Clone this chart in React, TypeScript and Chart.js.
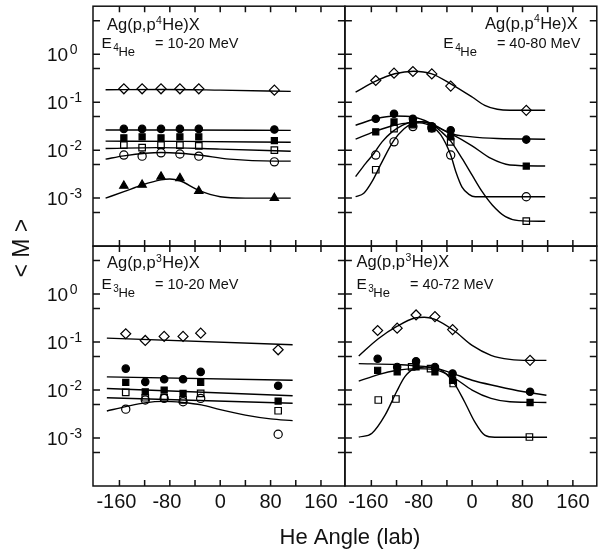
import React, { useEffect, useRef } from 'react';
import { Chart, registerables } from 'chart.js';

Chart.register(...registerables);

const FONT = "'Liberation Sans', Arial, Helvetica, sans-serif";

// ---- axis ticks / labels ----
const X_TICKS = [-160, -120, -80, -40, 0, 40, 80, 120, 160];
const X_LABELS = [-160, -80, 0, 80, 160];
const Y_TICKS = [5e-4, 1e-3, 5e-3, 1e-2, 5e-2, 0.1, 0.5, 1, 5];
const Y_LABEL_VALUES = [1, 0.1, 0.01, 0.001];
const Y_LABEL_EXPONENTS = ['0', '-1', '-2', '-3'];

// ---- measured angles ----
const TOP_ANGLES = [-153, -124, -94, -64, -34, 86];
const BOT_ANGLES = [-150, -119, -89, -59, -31, 92];
const BR_OS_ANGLES = [-149, -121, -96, -66, -30, 91];

// ---- top-left: Ag(p,p4He)X, E = 10-20 MeV ----
const TL_DIA = [0.19, 0.19, 0.19, 0.19, 0.19, 0.178];
const TL_FC = [0.0277, 0.0277, 0.0277, 0.0277, 0.0277, 0.027];
const TL_FS = [0.018, 0.0189, 0.018, 0.0189, 0.0189, 0.0158];
const TL_OS = [0.0127, 0.0113, 0.0127, 0.0127, 0.0123, 0.01];
const TL_OC = [0.0079, 0.0075, 0.0088, 0.0083, 0.0075, 0.0057];
const TL_TRI = [0.0018, 0.0019, 0.0028, 0.0026, 0.0014, 0.001];

const TL_DIA_CX = [-182, -90, 0, 112];
const TL_DIA_CY = [0.182, 0.184, 0.178, 0.168];
const TL_FC_CX = [-182, -60, 112];
const TL_FC_CY = [0.0262, 0.0262, 0.0258];
const TL_FS_CX = [-182, -60, 112];
const TL_FS_CY = [0.0154, 0.0152, 0.0146];
const TL_OS_CX = [-182, -100, 0, 112];
const TL_OS_CY = [0.0108, 0.0113, 0.0105, 0.0095];
const TL_OC_CX = [-182, -153, -94, -64, -34, 15, 86, 112];
const TL_OC_CY = [0.0065, 0.0076, 0.0089, 0.0086, 0.0079, 0.0065, 0.0059, 0.0059];
const TL_TRI_CX = [-182, -153, -124, -94, -80, -64, -34, 0, 40, 112];
const TL_TRI_CY = [0.001, 0.00136, 0.00188, 0.0024, 0.0025, 0.0023, 0.00145, 0.00107, 0.001, 0.001];

// ---- top-right: Ag(p,p4He)X, E = 40-80 MeV ----
const TR_DIA = [0.283, 0.402, 0.435, 0.388, 0.216, 0.0676];
const TR_FC = [0.045, 0.0575, 0.045, 0.0315, 0.026, 0.0166];
const TR_FS = [0.024, 0.0387, 0.035, 0.028, 0.0189, 0.00466];
const TR_OS = [0.0039, 0.028, 0.034, 0.03, 0.0149, 0.00033];
const TR_OC = [0.0079, 0.0149, 0.031, 0.029, 0.0079, 0.00107];

const TR_DIA_CX = [-185, -153, -123, -93, -64, -34, 0, 20, 40, 60, 116];
const TR_DIA_CY = [0.162, 0.274, 0.39, 0.442, 0.39, 0.241, 0.128, 0.086, 0.071, 0.0676, 0.0676];
const TR_FC_CX = [-185, -153, -123, -93, -64, -34, 0, 40, 116];
const TR_FC_CY = [0.033, 0.045, 0.0515, 0.049, 0.0356, 0.0221, 0.0189, 0.0175, 0.0169];
const TR_FS_CX = [-185, -156, -124, -95, -80, -64, -34, 0, 30, 60, 116];
const TR_FS_CY = [0.017, 0.024, 0.033, 0.038, 0.039, 0.034, 0.022, 0.0123, 0.0067, 0.0049, 0.00466];
const TR_OS_CX = [-185, -169, -156, -143, -127, -111, -95, -80, -64, -50, -34, -16, 0, 16, 32, 53, 74, 116];
const TR_OS_CY = [0.0028, 0.0053, 0.0085, 0.0149, 0.024, 0.033, 0.0387, 0.039, 0.035, 0.025, 0.0154, 0.0067, 0.003, 0.00136, 0.00072, 0.00041, 0.00034, 0.00033];
const TR_OC_CX = [-185, -172, -159, -143, -124, -108, -95, -84, -64, -50, -34, -26, -16, -5, 5, 116];
const TR_OC_CY = [0.00107, 0.00126, 0.0022, 0.0057, 0.0161, 0.028, 0.0356, 0.037, 0.031, 0.021, 0.0079, 0.0036, 0.0017, 0.0012, 0.00107, 0.00107];

// ---- bottom-left: Ag(p,p3He)X, E = 10-20 MeV ----
const BL_DIA = [0.149, 0.108, 0.131, 0.131, 0.153, 0.069];
const BL_FC = [0.028, 0.0148, 0.0168, 0.0168, 0.0239, 0.0123];
const BL_FS = [0.0144, 0.0092, 0.01, 0.0085, 0.0144, 0.0059];
const BL_OS = [0.0089, 0.0069, 0.0069, 0.0062, 0.0085, 0.0037];
const BL_OC = [0.004, 0.0062, 0.0067, 0.0057, 0.0067, 0.0012];

const BL_DIA_CX = [-180, 115];
const BL_DIA_CY = [0.121, 0.088];
const BL_FC_CX = [-180, 115];
const BL_FC_CY = [0.0188, 0.016];
const BL_FS_CX = [-180, 115];
const BL_FS_CY = [0.0108, 0.0076];
const BL_OS_CX = [-180, 115];
const BL_OS_CY = [0.0069, 0.0053];
const BL_OC_CX = [-180, -150, -120, -90, -60, -30, 0, 40, 80, 115];
const BL_OC_CY = [0.00366, 0.0045, 0.0054, 0.0058, 0.0055, 0.0049, 0.0039, 0.003, 0.0025, 0.0023];

// ---- bottom-right: Ag(p,p3He)X, E = 40-72 MeV ----
const BR_DIA = [0.174, 0.195, 0.367, 0.339, 0.182, 0.0416];
const BR_FC = [0.045, 0.0303, 0.0397, 0.0303, 0.0221, 0.0092];
const BR_FS = [0.0258, 0.0239, 0.0303, 0.0239, 0.016, 0.0055];
const BR_OS = [0.0062, 0.0065, 0.0303, 0.028, 0.0137, 0.00105];

const BR_DIA_CX = [-180, -149, -119, -91, -76, -61, -29, 0, 30, 60, 91, 118];
const BR_DIA_CY = [0.0513, 0.117, 0.214, 0.318, 0.33, 0.304, 0.174, 0.085, 0.053, 0.0436, 0.0416, 0.0416];
const BR_FC_CX = [-180, -120, -90, -60, -30, 0, 40, 80, 118];
const BR_FC_CY = [0.0356, 0.034, 0.032, 0.029, 0.022, 0.016, 0.012, 0.0093, 0.0078];
const BR_FS_CX = [-180, -149, -119, -91, -61, -29, 0, 30, 60, 118];
const BR_FS_CY = [0.0153, 0.021, 0.0258, 0.028, 0.027, 0.018, 0.01, 0.0067, 0.0057, 0.0055];
const BR_OS_CX = [-180, -159, -138, -120, -107, -92, -75, -54, -30, -12, 4, 20, 36, 119];
const BR_OS_CY = [0.00104, 0.00126, 0.00303, 0.0092, 0.0188, 0.028, 0.0303, 0.028, 0.0148, 0.0057, 0.0022, 0.00115, 0.00104, 0.00104];

// ---- panel captions ----
const CAPTION_4HE = ['Ag(p,p', '4', 'He)X'];
const CAPTION_3HE = ['Ag(p,p', '3', 'He)X'];
const ENERGY_TL = ['E', '4', 'He', '= 10-20 MeV'];
const ENERGY_TR = ['E', '4', 'He', '= 40-80 MeV'];
const ENERGY_BL = ['E', '3', 'He', '= 10-20 MeV'];
const ENERGY_BR = ['E', '3', 'He', '= 40-72 MeV'];
const Y_TITLE = '< M >';
const X_TITLE = 'He Angle (lab)';

type Kind = 'dia' | 'fc' | 'fs' | 'os' | 'oc' | 'tri';
const MARK: Record<Kind, { style: string; r: number; fill: boolean }> = {
  dia: { style: 'rectRot', r: 5, fill: false },
  fc: { style: 'circle', r: 3.7, fill: true },
  fs: { style: 'rect', r: 4.3, fill: true },
  os: { style: 'rect', r: 4.6, fill: false },
  oc: { style: 'circle', r: 4.1, fill: false },
  tri: { style: 'triangle', r: 4.8, fill: true },
};

const pts = (xs: number[], ys: number[]) => xs.map((x, i) => ({ x, y: ys[i] }));

function markers(xa: string, ya: string, xs: number[], ys: number[], kind: Kind) {
  const m = MARK[kind];
  return {
    data: pts(xs, ys),
    xAxisID: xa,
    yAxisID: ya,
    showLine: false,
    pointStyle: m.style,
    pointRadius: m.r,
    pointHoverRadius: m.r,
    pointBorderWidth: 1.2,
    pointBorderColor: '#000',
    pointBackgroundColor: m.fill ? '#000' : 'rgba(255,255,255,0)',
  };
}

function curve(xa: string, ya: string, xs: number[], ys: number[]) {
  return {
    data: pts(xs, ys),
    xAxisID: xa,
    yAxisID: ya,
    showLine: true,
    pointRadius: 0,
    pointHoverRadius: 0,
    borderColor: '#000',
    borderWidth: 1.4,
    cubicInterpolationMode: 'monotone',
    fill: false,
  };
}

const datasets: any[] = [
  // top-left
  curve('xL', 'yT', TL_DIA_CX, TL_DIA_CY),
  curve('xL', 'yT', TL_FC_CX, TL_FC_CY),
  curve('xL', 'yT', TL_FS_CX, TL_FS_CY),
  curve('xL', 'yT', TL_OS_CX, TL_OS_CY),
  curve('xL', 'yT', TL_OC_CX, TL_OC_CY),
  curve('xL', 'yT', TL_TRI_CX, TL_TRI_CY),
  markers('xL', 'yT', TOP_ANGLES, TL_DIA, 'dia'),
  markers('xL', 'yT', TOP_ANGLES, TL_FC, 'fc'),
  markers('xL', 'yT', TOP_ANGLES, TL_FS, 'fs'),
  markers('xL', 'yT', TOP_ANGLES, TL_OS, 'os'),
  markers('xL', 'yT', TOP_ANGLES, TL_OC, 'oc'),
  markers('xL', 'yT', TOP_ANGLES, TL_TRI, 'tri'),
  // top-right
  curve('xR', 'yT', TR_DIA_CX, TR_DIA_CY),
  curve('xR', 'yT', TR_FC_CX, TR_FC_CY),
  curve('xR', 'yT', TR_FS_CX, TR_FS_CY),
  curve('xR', 'yT', TR_OS_CX, TR_OS_CY),
  curve('xR', 'yT', TR_OC_CX, TR_OC_CY),
  markers('xR', 'yT', TOP_ANGLES, TR_DIA, 'dia'),
  markers('xR', 'yT', TOP_ANGLES, TR_FC, 'fc'),
  markers('xR', 'yT', TOP_ANGLES, TR_FS, 'fs'),
  markers('xR', 'yT', TOP_ANGLES, TR_OS, 'os'),
  markers('xR', 'yT', TOP_ANGLES, TR_OC, 'oc'),
  // bottom-left
  curve('xL', 'yB', BL_DIA_CX, BL_DIA_CY),
  curve('xL', 'yB', BL_FC_CX, BL_FC_CY),
  curve('xL', 'yB', BL_FS_CX, BL_FS_CY),
  curve('xL', 'yB', BL_OS_CX, BL_OS_CY),
  curve('xL', 'yB', BL_OC_CX, BL_OC_CY),
  markers('xL', 'yB', BOT_ANGLES, BL_DIA, 'dia'),
  markers('xL', 'yB', BOT_ANGLES, BL_FC, 'fc'),
  markers('xL', 'yB', BOT_ANGLES, BL_FS, 'fs'),
  markers('xL', 'yB', BOT_ANGLES, BL_OS, 'os'),
  markers('xL', 'yB', BOT_ANGLES, BL_OC, 'oc'),
  // bottom-right
  curve('xR', 'yB', BR_DIA_CX, BR_DIA_CY),
  curve('xR', 'yB', BR_FC_CX, BR_FC_CY),
  curve('xR', 'yB', BR_FS_CX, BR_FS_CY),
  curve('xR', 'yB', BR_OS_CX, BR_OS_CY),
  markers('xR', 'yB', BOT_ANGLES, BR_DIA, 'dia'),
  markers('xR', 'yB', BOT_ANGLES, BR_FC, 'fc'),
  markers('xR', 'yB', BOT_ANGLES, BR_FS, 'fs'),
  markers('xR', 'yB', BR_OS_ANGLES, BR_OS, 'os'),
];

type Seg = { t: string; size: number; dy?: number; pad?: number };

function segWidth(ctx: CanvasRenderingContext2D, segs: Seg[]) {
  let w = 0;
  for (const s of segs) {
    ctx.font = `${s.size}px ${FONT}`;
    w += (s.pad || 0) + ctx.measureText(s.t).width;
  }
  return w;
}

function drawSegs(ctx: CanvasRenderingContext2D, x0: number, base: number, segs: Seg[]) {
  let x = x0;
  for (const s of segs) {
    ctx.font = `${s.size}px ${FONT}`;
    x += s.pad || 0;
    ctx.fillText(s.t, x, base + (s.dy || 0));
    x += ctx.measureText(s.t).width;
  }
}

const captionSegs = (c: string[]): Seg[] => [
  { t: c[0], size: 16.5 },
  { t: c[1], size: 10.5, dy: -6.5, pad: 0.5 },
  { t: c[2], size: 16.5, pad: 0.3 },
];
const energySegs = (e: string[]): Seg[] => [
  { t: e[0], size: 15.5 },
  { t: e[1], size: 10, dy: 2.5, pad: 1.5 },
  { t: e[2], size: 13, dy: 8, pad: -0.5 },
  { t: e[3], size: 14.5, pad: 20 },
];

const panelPlugin = {
  id: 'panelDecor',
  afterDatasetsDraw(chart: any) {
    const ctx: CanvasRenderingContext2D = chart.ctx;
    const sc = chart.scales;
    const panels = [
      ['xL', 'yT'],
      ['xR', 'yT'],
      ['xL', 'yB'],
      ['xR', 'yB'],
    ];
    ctx.save();
    ctx.strokeStyle = '#111';
    ctx.fillStyle = '#111';
    ctx.lineWidth = 1.5;
    for (const [xi, yi] of panels) {
      const xs = sc[xi];
      const ys = sc[yi];
      ctx.strokeRect(xs.left, ys.top, xs.right - xs.left, ys.bottom - ys.top);
      ctx.beginPath();
      for (const v of X_TICKS) {
        const px = xs.getPixelForValue(v);
        ctx.moveTo(px, ys.top);
        ctx.lineTo(px, ys.top + 6);
        ctx.moveTo(px, ys.bottom);
        ctx.lineTo(px, ys.bottom - 6);
      }
      for (const v of Y_TICKS) {
        const py = ys.getPixelForValue(v);
        ctx.moveTo(xs.left, py);
        ctx.lineTo(xs.left + 7, py);
        ctx.moveTo(xs.right, py);
        ctx.lineTo(xs.right - 7, py);
      }
      ctx.stroke();
    }

    // y tick labels 10^n
    ctx.textAlign = 'left';
    ctx.textBaseline = 'alphabetic';
    const lx = sc.xL.left - 46;
    for (const yi of ['yT', 'yB']) {
      const ys = sc[yi];
      Y_LABEL_VALUES.forEach((v, i) => {
        const py = ys.getPixelForValue(v);
        ctx.font = `19px ${FONT}`;
        ctx.fillText('10', lx, py + 7);
        const w = ctx.measureText('10').width;
        ctx.font = `14px ${FONT}`;
        ctx.fillText(Y_LABEL_EXPONENTS[i], lx + w + 1.5, py - 0.5);
      });
    }

    // x tick labels under the bottom panels
    ctx.textAlign = 'center';
    ctx.textBaseline = 'middle';
    ctx.font = `20px ${FONT}`;
    for (const xi of ['xL', 'xR']) {
      const xs = sc[xi];
      for (const v of X_LABELS) {
        ctx.fillText(String(v), xs.getPixelForValue(v) - (v < 0 ? 3 : 0), sc.yB.bottom + 16);
      }
    }

    // panel captions
    ctx.textAlign = 'left';
    ctx.textBaseline = 'alphabetic';
    const xL = sc.xL, xR = sc.xR, yT = sc.yT, yB = sc.yB;
    drawSegs(ctx, xL.left + 14, yT.top + 24, captionSegs(CAPTION_4HE));
    drawSegs(ctx, xL.left + 8.5, yT.top + 42, energySegs(ENERGY_TL));
    const c2 = captionSegs(CAPTION_4HE);
    drawSegs(ctx, xR.right - 19 - segWidth(ctx, c2), yT.top + 22.5, c2);
    const e2 = energySegs(ENERGY_TR);
    drawSegs(ctx, xR.right - 16.5 - segWidth(ctx, e2), yT.top + 42, e2);
    drawSegs(ctx, xL.left + 14, yB.top + 22, captionSegs(CAPTION_3HE));
    drawSegs(ctx, xL.left + 8.5, yB.top + 43, energySegs(ENERGY_BL));
    drawSegs(ctx, xR.left + 11.5, yB.top + 21, captionSegs(CAPTION_3HE));
    drawSegs(ctx, xR.left + 11.5, yB.top + 43, energySegs(ENERGY_BR));

    // axis titles
    ctx.textAlign = 'center';
    ctx.textBaseline = 'middle';
    ctx.font = `23px ${FONT}`;
    ctx.save();
    ctx.translate(23, (yT.top + yB.bottom) / 2 + 2);
    ctx.rotate(-Math.PI / 2);
    ctx.fillText(Y_TITLE, 0, 0);
    ctx.restore();
    ctx.font = `22px ${FONT}`;
    ctx.fillText(X_TITLE, (xL.left + xR.right) / 2 + 5, 538);
    ctx.restore();
  },
};

const xScale = (weight: number) => ({
  type: 'linear',
  position: 'bottom',
  stack: 'cols',
  stackWeight: 1,
  weight,
  min: -202,
  max: 198,
  grid: { display: false, drawTicks: false },
  border: { display: false },
  ticks: { display: false },
  afterFit: (s: any) => {
    s.height = 68;
  },
});

const yScale = (weight: number) => ({
  type: 'logarithmic',
  position: 'left',
  stack: 'rows',
  stackWeight: 1,
  weight,
  min: 1e-4,
  max: 10,
  grid: { display: false, drawTicks: false },
  border: { display: false },
  ticks: { display: false },
  afterFit: (s: any) => {
    s.width = 93;
  },
});

export default function App() {
  const ref = useRef<HTMLCanvasElement>(null);
  useEffect(() => {
    if (!ref.current) return;
    const chart = new Chart(ref.current, {
      type: 'scatter',
      data: { datasets },
      options: {
        responsive: false,
        maintainAspectRatio: false,
        animation: false,
        events: [],
        layout: { padding: { top: 5, right: 6, left: 0, bottom: 0 } },
        plugins: { legend: { display: false }, tooltip: { enabled: false } },
        scales: {
          xL: xScale(1),
          xR: xScale(2),
          yT: yScale(2),
          yB: yScale(1),
        },
      } as any,
      plugins: [panelPlugin],
    });
    return () => chart.destroy();
  }, []);
  return (
    <div style={{ position: 'fixed', left: 0, top: 0, width: 603, height: 554, background: '#fff' }}>
      <canvas ref={ref} width={603} height={554} style={{ display: 'block', width: 603, height: 554 }} />
    </div>
  );
}
